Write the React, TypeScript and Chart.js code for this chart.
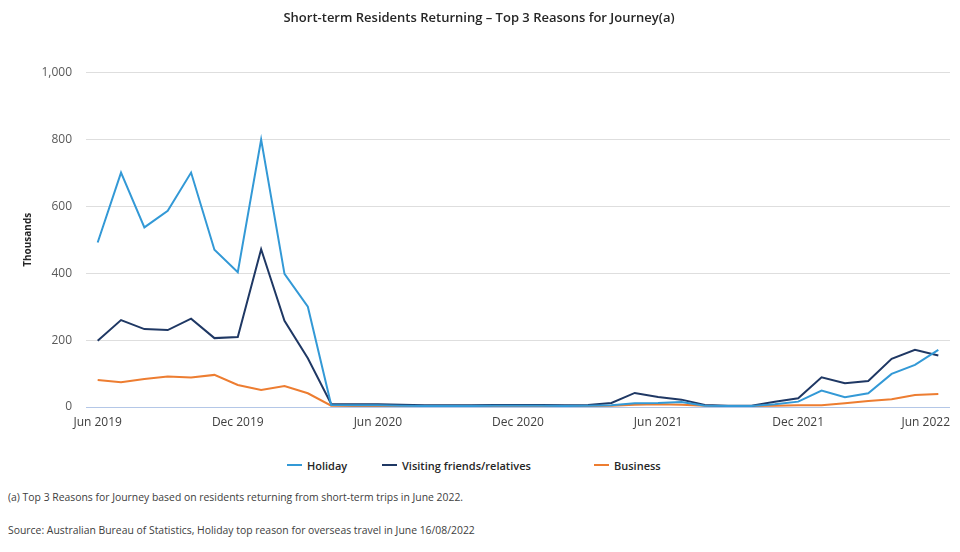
import React, { useEffect, useRef } from "react";
import { Chart, registerables } from "chart.js";

Chart.register(...registerables);

const months = [
  "Jun 2019", "Jul 2019", "Aug 2019", "Sep 2019", "Oct 2019", "Nov 2019", "Dec 2019",
  "Jan 2020", "Feb 2020", "Mar 2020", "Apr 2020", "May 2020", "Jun 2020",
  "Jul 2020", "Aug 2020", "Sep 2020", "Oct 2020", "Nov 2020", "Dec 2020",
  "Jan 2021", "Feb 2021", "Mar 2021", "Apr 2021", "May 2021", "Jun 2021",
  "Jul 2021", "Aug 2021", "Sep 2021", "Oct 2021", "Nov 2021", "Dec 2021",
  "Jan 2022", "Feb 2022", "Mar 2022", "Apr 2022", "May 2022", "Jun 2022",
];

const holiday = [
  492, 701, 537, 587, 701, 470, 403, 800, 398, 300, 6, 5, 5,
  4, 3, 3, 3, 4, 4, 4, 3, 4, 5, 11, 12,
  15, 4, 3, 3, 8, 16, 49, 29, 41, 99, 126, 171,
];

const visiting = [
  198, 260, 233, 230, 264, 206, 209, 472, 258, 146, 9, 8, 8,
  7, 5, 5, 5, 6, 6, 6, 5, 6, 12, 42, 30,
  22, 6, 4, 4, 16, 26, 89, 71, 78, 144, 171, 154,
];

const business = [
  81, 74, 84, 91, 88, 96, 66, 51, 63, 41, 4, 3, 3,
  3, 2, 2, 2, 2, 2, 2, 2, 3, 4, 7, 8,
  7, 4, 3, 3, 4, 5, 5, 11, 18, 23, 36, 39,
];

const seriesNames = ["Holiday", "Visiting friends/relatives", "Business"];
const seriesColors = ["#3399d6", "#1f3864", "#ed7d31"];

const titleText = "Short-term Residents Returning – Top 3 Reasons for Journey(a)";
const yAxisTitle = "Thousands";
const footnote = "(a) Top 3 Reasons for Journey based on residents returning from short-term trips in June 2022.";
const source = "Source: Australian Bureau of Statistics, Holiday top reason for overseas travel in June 16/08/2022";

const FONT = "'Open Sans', 'Noto Sans', sans-serif";

// Draws x-axis labels every 6 months, keeping the last label inside the plot's right edge.
const xLabelPlugin = {
  id: "xLabelsClamped",
  afterDraw(chart: any) {
    const s = chart.scales.x;
    const ctx = chart.ctx;
    const area = chart.chartArea;
    ctx.save();
    ctx.font = `12px ${FONT}`;
    ctx.fillStyle = "#404040";
    ctx.textBaseline = "middle";
    ctx.textAlign = "left";
    months.forEach((m, i) => {
      if (i % 6 !== 0) return;
      const w = ctx.measureText(m).width;
      let x = s.getPixelForValue(i) - w / 2;
      x = Math.min(x, area.right - w);
      x = Math.max(x, 0);
      ctx.fillText(m, x, area.bottom + 16);
    });
    ctx.restore();
  },
};

export default function App() {
  const canvasRef = useRef<HTMLCanvasElement | null>(null);

  useEffect(() => {
    if (!canvasRef.current) return;
    const data = [holiday, visiting, business];
    const chart = new Chart(canvasRef.current, {
      type: "line",
      data: {
        labels: months,
        datasets: data.map((d, i) => ({
          label: seriesNames[i],
          data: d,
          borderColor: seriesColors[i],
          backgroundColor: seriesColors[i],
          borderWidth: 2,
          pointRadius: 0,
          tension: 0,
        })),
      },
      options: {
        animation: false,
        responsive: false,
        maintainAspectRatio: false,
        layout: { padding: { left: 0, right: 2, top: 0, bottom: 0 } },
        plugins: {
          legend: { display: false },
          tooltip: { enabled: false },
          title: {
            display: true,
            text: titleText,
            color: "#262626",
            font: { family: FONT, size: 13, weight: "600" },
            padding: { top: 2, bottom: 47 },
          },
        },
        scales: {
          x: {
            type: "category",
            offset: true,
            grid: { display: false, drawTicks: false },
            border: { display: false },
            ticks: { display: false },
            afterFit: (s: any) => {
              s.height = 31;
            },
          },
          y: {
            min: 0,
            max: 1000,
            grid: {
              drawTicks: false,
              color: (ctx: any) => (ctx.tick && ctx.tick.value === 0 ? "#b4c7e7" : "#dedede"),
              lineWidth: 1,
            },
            border: { display: false },
            ticks: {
              stepSize: 200,
              padding: 14,
              color: "#595959",
              font: { family: FONT, size: 12 },
              callback: (v: any) => Number(v).toLocaleString("en-US"),
            },
            title: {
              display: true,
              text: yAxisTitle,
              color: "#262626",
              font: { family: FONT, size: 10, weight: "bold" },
              padding: { top: 14, bottom: 0 },
            },
            afterFit: (s: any) => {
              s.width = 78;
            },
          },
        },
      },
      plugins: [xLabelPlugin],
    });
    return () => chart.destroy();
  }, []);

  const legendItems = [
    { left: 279, name: seriesNames[0], color: seriesColors[0] },
    { left: 374, name: seriesNames[1], color: seriesColors[1] },
    { left: 586, name: seriesNames[2], color: seriesColors[2] },
  ];

  return (
    <div style={{ position: "relative", width: 944, height: 536, fontFamily: FONT }}>
      <canvas
        ref={canvasRef}
        width={944}
        height={430}
        style={{ position: "absolute", left: 0, top: 0, width: 944, height: 430 }}
      />
      {legendItems.map((it) => (
        <div
          key={it.name}
          style={{
            position: "absolute",
            left: it.left,
            top: 449,
            height: 16,
            display: "flex",
            alignItems: "center",
            fontSize: 11,
            fontWeight: 600,
            color: "#262626",
            whiteSpace: "nowrap",
          }}
        >
          <span style={{ display: "inline-block", width: 15, height: 2, background: it.color, marginRight: 5 }} />
          {it.name}
        </div>
      ))}
      <div style={{ position: "absolute", left: 0, top: 482, fontSize: 10.4, color: "#404040", whiteSpace: "nowrap" }}>
        {footnote}
      </div>
      <div style={{ position: "absolute", left: 0, top: 515, fontSize: 10.4, color: "#404040", whiteSpace: "nowrap" }}>
        {source}
      </div>
    </div>
  );
}
